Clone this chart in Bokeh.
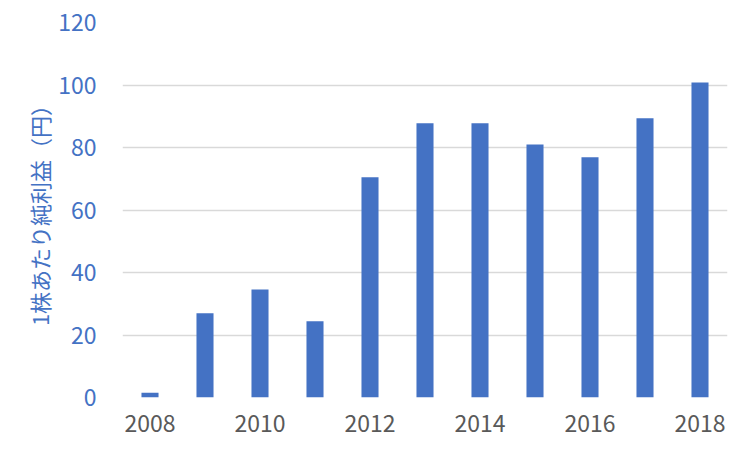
from bokeh.plotting import figure
from bokeh.models import ColumnDataSource, FixedTicker, Range1d
from bokeh.embed import file_html
from bokeh.resources import INLINE

years = [2008, 2009, 2010, 2011, 2012, 2013, 2014, 2015, 2016, 2017, 2018]
eps = [1.5, 27.0, 34.6, 24.4, 70.5, 87.8, 87.8, 81.0, 76.9, 89.4, 100.8]
x_ticks = [2008, 2010, 2012, 2014, 2016, 2018]
y_ticks = [0, 20, 40, 60, 80, 100, 120]
y_label = "1株あたり純利益（円）"

BLUE = "#4472C4"
FONT = "Noto Sans CJK JP"

src = ColumnDataSource(data=dict(x=years, y=eps))

p = figure(width=742, height=442, output_backend="svg", toolbar_location=None,
           x_range=Range1d(2007.5, 2018.5), y_range=Range1d(0, 120),
           min_border_left=122, min_border_right=15, min_border_top=22, min_border_bottom=45)
p.outline_line_color = None
p.background_fill_color = "white"
p.border_fill_color = "white"

p.vbar(x="x", top="y", width=0.31, source=src, fill_color=BLUE, line_color=None)

p.xgrid.grid_line_color = None
p.ygrid.grid_line_color = "#D9D9D9"
p.ygrid.grid_line_width = 1.5

p.xaxis.ticker = FixedTicker(ticks=x_ticks)
p.yaxis.ticker = FixedTicker(ticks=y_ticks)
for ax in (p.xaxis[0], p.yaxis[0]):
    ax.axis_line_color = None
    ax.major_tick_line_color = None
    ax.minor_tick_line_color = None
    ax.major_label_text_font = FONT
    ax.major_label_text_font_size = "23px"

p.xaxis.major_label_text_color = "#595959"
p.xaxis.major_label_standoff = 11
p.yaxis.major_label_text_color = BLUE
p.yaxis.major_label_standoff = 20
p.yaxis.axis_label = y_label
p.yaxis.axis_label_text_font = FONT
p.yaxis.axis_label_text_font_size = "22px"
p.yaxis.axis_label_text_font_style = "normal"
p.yaxis.axis_label_text_color = BLUE
p.yaxis.axis_label_standoff = 0

open("out.html", "w").write(file_html(p, INLINE))
